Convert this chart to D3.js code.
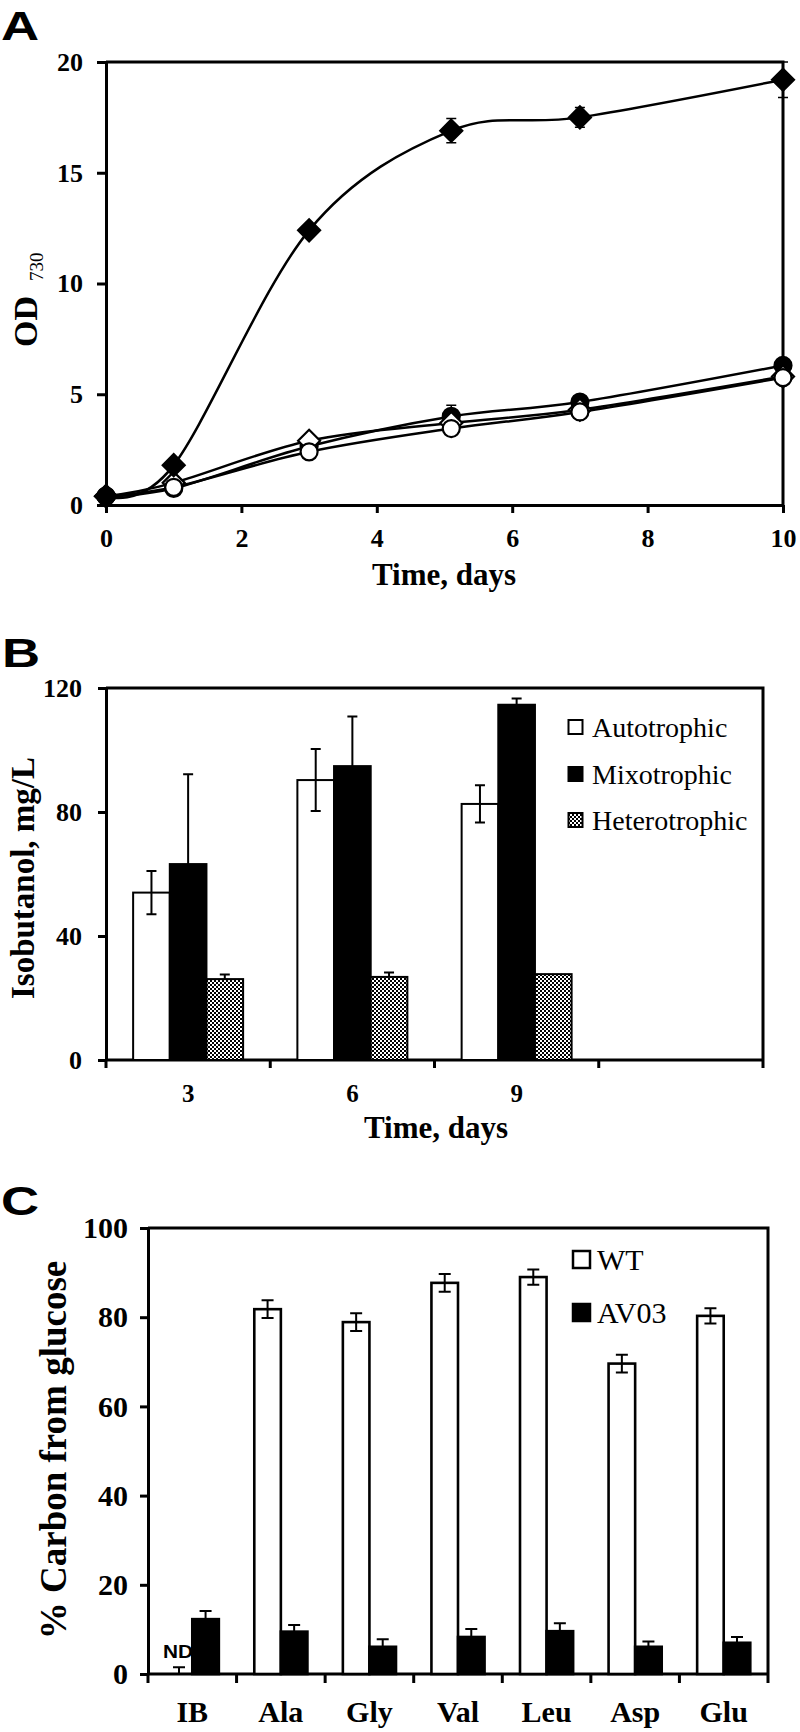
<!DOCTYPE html>
<html><head><meta charset="utf-8">
<script src="https://cdn.jsdelivr.net/npm/d3@7"></script>
<style>body{margin:0;background:#fff} svg{display:block}</style>
</head><body>
<svg id="c" width="800" height="1732"></svg>
<script>
// ---------- Panel A data (OD730 vs time) ----------
const daysA = [0, 1, 3, 5.1, 7, 10];
const odFilledDiamond = [0.4, 1.8, 12.4, 16.9, 17.5, 19.2];
const odFilledDiamondErr = [0, 0, 0, 0.55, 0.45, 0.8];
const odFilledCircle = [0.4, 0.75, 2.65, 4.0, 4.65, 6.3];
const odFilledCircleErr = [0, 0, 0, 0.5, 0, 0];
const odOpenDiamond = [0.4, 1.0, 2.9, 3.7, 4.3, 5.8];
const odOpenCircle = [0.4, 0.8, 2.4, 3.45, 4.2, 5.75];
const xTicksA = [0, 2, 4, 6, 8, 10];
const yTicksA = [0, 5, 10, 15, 20];

// ---------- Panel B data (isobutanol) ----------
const timeCatsB = ["3", "6", "9", ""];
const seriesB = ["Autotrophic", "Mixotrophic", "Heterotrophic"];
const autotrophic = [54, 90.3, 82.6];
const autotrophicErr = [7, 10, 6];
const mixotrophic = [63.2, 94.8, 114.6];
const mixotrophicErr = [29, 16, 2];
const heterotrophic = [26.1, 26.8, 27.7];
const heterotrophicErr = [1.5, 1.4, 0];
const yTicksB = [0, 40, 80, 120];

// ---------- Panel C data (% carbon from glucose) ----------
const compoundsC = ["IB", "Ala", "Gly", "Val", "Leu", "Asp", "Glu"];
const seriesC = ["WT", "AV03"];
const wt = [0, 81.8, 78.9, 87.7, 89.0, 69.6, 80.3];
const wtErr = [1.5, 2, 2, 2, 1.7, 2, 1.7];
const av03 = [12.3, 9.5, 6.1, 8.3, 9.6, 6.1, 7.0];
const av03Err = [1.8, 1.5, 1.7, 1.8, 1.8, 1.2, 1.3];
const yTicksC = [0, 20, 40, 60, 80, 100];

const SERIF = "'Liberation Serif','Times New Roman',serif";
const SANS = "'Liberation Sans',Arial,sans-serif";
const svg = d3.select("#c");

const defs = svg.append("defs");
const pat = defs.append("pattern").attr("id", "checker")
  .attr("patternUnits", "userSpaceOnUse").attr("width", 4).attr("height", 4);
pat.append("rect").attr("width", 4).attr("height", 4).attr("fill", "#000");
pat.append("rect").attr("x", 0).attr("y", 0).attr("width", 2).attr("height", 2).attr("fill", "#fff");
pat.append("rect").attr("x", 2).attr("y", 2).attr("width", 2).attr("height", 2).attr("fill", "#fff");

function panelLetter(t, x, y) {
  svg.append("text").attr("transform", `translate(${x},${y}) scale(1.32,1)`)
    .attr("font-family", SANS).attr("font-weight", "bold").attr("font-size", 40).text(t);
}
function styleAxis(g, fs) {
  g.select(".domain").attr("stroke", "#000").attr("stroke-width", 3);
  g.selectAll(".tick line").attr("stroke", "#000").attr("stroke-width", 3);
  g.selectAll(".tick text").attr("font-family", SERIF).attr("font-weight", "bold")
    .attr("font-size", fs).attr("fill", "#000");
}
function frame(x0, x1, y0, y1) {
  svg.append("path").attr("d", `M${x0},${y0}H${x1}V${y1}`).attr("fill", "none")
    .attr("stroke", "#000").attr("stroke-width", 3);
}

// ================= Panel A =================
panelLetter("A", 1, 40);
const xA = d3.scaleLinear().domain([0, 10]).range([106, 783]);
const yA = d3.scaleLinear().domain([0, 20]).range([505, 62]);
frame(106, 783, 62, 505);
const gyA = svg.append("g").attr("transform", "translate(106,0)")
  .call(d3.axisLeft(yA).tickValues(yTicksA).tickSize(9).tickPadding(14).tickSizeOuter(0));
styleAxis(gyA, 26);
const gxA = svg.append("g").attr("transform", "translate(0,505)")
  .call(d3.axisBottom(xA).tickValues(xTicksA).tickSize(8).tickSizeOuter(0));
styleAxis(gxA, 26);
gxA.selectAll(".tick text").attr("dy", null).attr("y", 42);

svg.append("text").attr("x", 444).attr("y", 585).attr("text-anchor", "middle")
  .attr("font-family", SERIF).attr("font-weight", "bold").attr("font-size", 31).text("Time, days");
const odT = svg.append("text").attr("transform", "translate(37,347) rotate(-90)")
  .attr("font-family", SERIF).attr("fill", "#000");
odT.append("tspan").attr("font-weight", "bold").attr("font-size", 34).text("OD");
odT.append("tspan").attr("font-size", 19).attr("dx", 15).attr("dy", 6).text("730");

const lineA = d3.line().x(d => xA(d[0])).y(d => yA(d[1])).curve(d3.curveCardinal.tension(0));
const diamond = r => `M0,${-r}L${r},0L0,${r}L${-r},0Z`;
const seriesA = [
  { v: odFilledCircle, e: odFilledCircleErr, shape: "circle", fill: "#000" },
  { v: odOpenDiamond, e: null, shape: "diamond", fill: "#fff" },
  { v: odOpenCircle, e: null, shape: "circle", fill: "#fff" },
  { v: odFilledDiamond, e: odFilledDiamondErr, shape: "diamond", fill: "#000" }
];
seriesA.forEach(s => {
  const pts = daysA.map((d, i) => [d, s.v[i]]);
  svg.append("path").attr("d", lineA(pts)).attr("fill", "none").attr("stroke", "#000").attr("stroke-width", 2.5);
});
seriesA.forEach(s => {
  const pts = daysA.map((d, i) => [d, s.v[i], s.e ? s.e[i] : 0]);
  const g = svg.append("g");
  pts.filter(p => p[2] > 0).forEach(p => {
    const cx = xA(p[0]);
    g.append("path").attr("d",
      `M${cx},${yA(p[1] - p[2])}V${yA(p[1] + p[2])}M${cx - 5},${yA(p[1] - p[2])}H${cx + 5}M${cx - 5},${yA(p[1] + p[2])}H${cx + 5}`)
      .attr("stroke", "#000").attr("stroke-width", 1.5).attr("fill", "none");
  });
  pts.forEach(p => {
    if (s.shape === "circle") {
      g.append("circle").attr("cx", xA(p[0])).attr("cy", yA(p[1])).attr("r", 8.5)
        .attr("fill", s.fill).attr("stroke", "#000").attr("stroke-width", 2.2);
    } else {
      g.append("path").attr("transform", `translate(${xA(p[0])},${yA(p[1])})`).attr("d", diamond(11))
        .attr("fill", s.fill).attr("stroke", "#000").attr("stroke-width", 2.2);
    }
  });
});

// ================= Panel B =================
panelLetter("B", 2, 667);
const x0B = d3.scaleBand().domain(timeCatsB).range([106, 763]).padding(0);
const x1B = d3.scaleBand().domain(seriesB).range([0, x0B.bandwidth()]).paddingInner(0).paddingOuter(0.74);
const yB = d3.scaleLinear().domain([0, 120]).range([1060, 688]);
frame(106, 763, 688, 1060);
const gyB = svg.append("g").attr("transform", "translate(106,0)")
  .call(d3.axisLeft(yB).tickValues(yTicksB).tickSize(8).tickPadding(16).tickSizeOuter(0));
styleAxis(gyB, 26);
const bTicks = timeCatsB.map(c => x0B(c)).concat([x0B.range()[1]]);
const gxB = svg.append("g");
gxB.append("path").attr("d", `M106,1060H763`).attr("stroke", "#000").attr("stroke-width", 3);
bTicks.forEach(t => gxB.append("line").attr("x1", t).attr("x2", t).attr("y1", 1060).attr("y2", 1068)
  .attr("stroke", "#000").attr("stroke-width", 3));
timeCatsB.forEach(c => gxB.append("text").attr("x", x0B(c) + x0B.bandwidth() / 2).attr("y", 1102)
  .attr("text-anchor", "middle").attr("font-family", SERIF).attr("font-weight", "bold").attr("font-size", 25).text(c));
svg.append("text").attr("x", 436).attr("y", 1138).attr("text-anchor", "middle")
  .attr("font-family", SERIF).attr("font-weight", "bold").attr("font-size", 31).text("Time, days");
svg.append("text").attr("transform", "translate(34,878) rotate(-90)").attr("text-anchor", "middle")
  .attr("font-family", SERIF).attr("font-weight", "bold").attr("font-size", 33).text("Isobutanol, mg/L");

const dataB = [
  { name: "Autotrophic", v: autotrophic, e: autotrophicErr, fill: "#fff", both: true },
  { name: "Mixotrophic", v: mixotrophic, e: mixotrophicErr, fill: "#000", both: false },
  { name: "Heterotrophic", v: heterotrophic, e: heterotrophicErr, fill: "url(#checker)", both: false }
];
dataB.forEach(s => {
  s.v.forEach((v, i) => {
    const c = timeCatsB[i];
    const x = x0B(c) + x1B(s.name);
    svg.append("rect").attr("x", x).attr("y", yB(v)).attr("width", x1B.bandwidth()).attr("height", yB(0) - yB(v))
      .attr("fill", s.fill).attr("stroke", "#000").attr("stroke-width", 2);
  });
});
dataB.forEach(s => {
  s.v.forEach((v, i) => {
    const e = s.e[i];
    if (!e) return;
    const cx = x0B(timeCatsB[i]) + x1B(s.name) + x1B.bandwidth() / 2;
    const lo = s.both ? v - e : v;
    let d = `M${cx},${yB(lo)}V${yB(v + e)}M${cx - 5},${yB(v + e)}H${cx + 5}`;
    if (s.both) d += `M${cx - 5},${yB(lo)}H${cx + 5}`;
    svg.append("path").attr("d", d).attr("stroke", "#000").attr("stroke-width", 2).attr("fill", "none");
  });
});
const legB = [{ n: "Autotrophic", f: "#fff", y: 727 }, { n: "Mixotrophic", f: "#000", y: 774 }, { n: "Heterotrophic", f: "url(#checker)", y: 820 }];
legB.forEach(l => {
  svg.append("rect").attr("x", 568.5).attr("y", l.y - 7).attr("width", 14).attr("height", 14)
    .attr("fill", l.f).attr("stroke", "#000").attr("stroke-width", 2);
  svg.append("text").attr("x", 592).attr("y", l.y + 10).attr("font-family", SERIF).attr("font-size", 28).text(l.n);
});

// ================= Panel C =================
panelLetter("C", 1, 1215);
const x0C = d3.scaleBand().domain(compoundsC).range([148, 768]).padding(0);
const x1C = d3.scaleBand().domain(seriesC).range([0, x0C.bandwidth()]).paddingInner(0).paddingOuter(0.667);
const yC = d3.scaleLinear().domain([0, 100]).range([1674, 1228]);
frame(148, 768, 1228, 1674);
const gyC = svg.append("g").attr("transform", "translate(148,0)")
  .call(d3.axisLeft(yC).tickValues(yTicksC).tickSize(8).tickPadding(12).tickSizeOuter(0));
styleAxis(gyC, 30);
const gxC = svg.append("g");
gxC.append("path").attr("d", `M148,1674H768`).attr("stroke", "#000").attr("stroke-width", 3);
compoundsC.map(c => x0C(c)).concat([768]).forEach(t => gxC.append("line").attr("x1", t).attr("x2", t)
  .attr("y1", 1674).attr("y2", 1683).attr("stroke", "#000").attr("stroke-width", 3));
compoundsC.forEach(c => gxC.append("text").attr("x", x0C(c) + x0C.bandwidth() / 2).attr("y", 1722)
  .attr("text-anchor", "middle").attr("font-family", SERIF).attr("font-weight", "bold").attr("font-size", 30).text(c));
svg.append("text").attr("transform", "translate(66,1450) rotate(-90)").attr("text-anchor", "middle")
  .attr("font-family", SERIF).attr("font-weight", "bold").attr("font-size", 37).text("% Carbon from glucose");

const dataC = [
  { name: "WT", v: wt, e: wtErr, fill: "#fff", both: true },
  { name: "AV03", v: av03, e: av03Err, fill: "#000", both: false }
];
dataC.forEach(s => {
  s.v.forEach((v, i) => {
    if (v <= 0) return;
    const x = x0C(compoundsC[i]) + x1C(s.name);
    svg.append("rect").attr("x", x).attr("y", yC(v)).attr("width", x1C.bandwidth()).attr("height", yC(0) - yC(v))
      .attr("fill", s.fill).attr("stroke", "#000").attr("stroke-width", 2.6);
  });
});
dataC.forEach(s => {
  s.v.forEach((v, i) => {
    const e = s.e[i];
    const cx = x0C(compoundsC[i]) + x1C(s.name) + x1C.bandwidth() / 2;
    const lo = s.both ? Math.max(0, v - e) : v;
    let d = `M${cx},${yC(lo)}V${yC(v + e)}M${cx - 6},${yC(v + e)}H${cx + 6}`;
    if (s.both && v - e > 0) d += `M${cx - 6},${yC(lo)}H${cx + 6}`;
    svg.append("path").attr("d", d).attr("stroke", "#000").attr("stroke-width", 2).attr("fill", "none");
  });
});
svg.append("text").attr("x", x0C("IB") + x1C("WT") + x1C.bandwidth() / 2 - 1).attr("y", 1658)
  .attr("text-anchor", "middle").attr("font-family", SANS).attr("font-weight", "bold").attr("font-size", 18)
  .attr("textLength", 30).attr("lengthAdjust", "spacingAndGlyphs").text("ND");
const legC = [{ n: "WT", f: "#fff", y: 1259.5 }, { n: "AV03", f: "#000", y: 1312.5 }];
legC.forEach(l => {
  svg.append("rect").attr("x", 573).attr("y", l.y - 8.5).attr("width", 17).attr("height", 17)
    .attr("fill", l.f).attr("stroke", "#000").attr("stroke-width", 2.5);
  svg.append("text").attr("x", 597).attr("y", l.y + 10).attr("font-family", SERIF).attr("font-size", 30).text(l.n);
});
</script>
</body></html>
